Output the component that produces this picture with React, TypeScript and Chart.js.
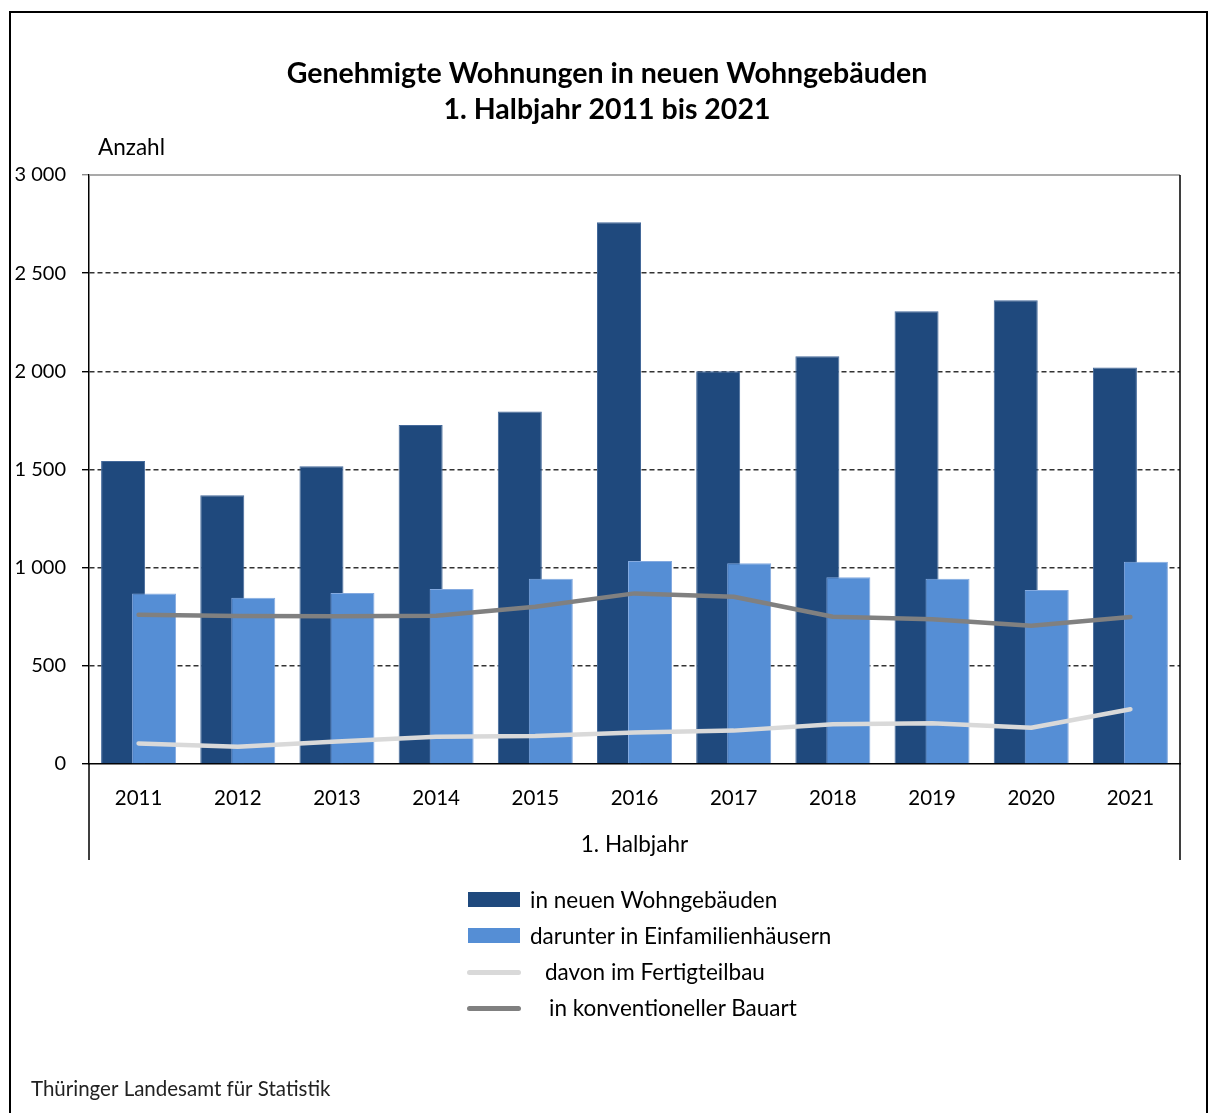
import React, { useEffect, useRef } from 'react';
import { Chart, registerables } from 'chart.js';

Chart.register(...registerables);

// ---- data ----
const years = ['2011', '2012', '2013', '2014', '2015', '2016', '2017', '2018', '2019', '2020', '2021'];
const wohnungenNeu = [1543, 1369, 1516, 1727, 1796, 2759, 2000, 2077, 2306, 2362, 2019];
const einfamilienhaeuser = [869, 847, 871, 891, 944, 1034, 1022, 951, 944, 886, 1030];
const fertigteilbau = [105, 88, 114, 139, 143, 161, 170, 202, 207, 185, 279];
const konventionell = [760, 754, 752, 755, 801, 869, 852, 750, 737, 704, 749];

const yMin = 0;
const yMax = 3000;
const yStep = 500;

const titleLines = ['Genehmigte Wohnungen in neuen Wohngebäuden', '1. Halbjahr 2011 bis 2021'];
const yAxisLabel = 'Anzahl';
const xAxisLabel = '1. Halbjahr';
const sourceText = 'Thüringer Landesamt für Statistik';
const legendLabels = [
  'in neuen Wohngebäuden',
  'darunter in Einfamilienhäusern',
  'davon im Fertigteilbau',
  'in konventioneller Bauart',
];

const COLORS = {
  dark: '#1f497d',
  light: '#558ed5',
  fertig: '#d9d9d9',
  konv: '#808080',
};

const FONT = 'Lato, "Noto Sans", sans-serif';

const fmt = (v: number) => {
  const s = String(Math.round(v));
  return s.replace(/\B(?=(\d{3})+(?!\d))/g, ' ');
};

const drawOrderPlugin = {
  id: 'drawOrder',
  beforeDatasetsDraw(chart: any) {
    [0, 1, 3, 2].forEach((i) => {
      const meta = chart.getDatasetMeta(i);
      if (meta && !meta.hidden) meta.controller.draw();
    });
    return false;
  },
};

const decorPlugin = {
  id: 'decor',
  afterDraw(chart: any) {
    const ctx = chart.ctx as CanvasRenderingContext2D;
    const a = chart.chartArea;
    ctx.save();
    // plot frame top
    ctx.strokeStyle = '#8c8c8c';
    ctx.lineWidth = 1.5;
    ctx.beginPath();
    ctx.moveTo(a.left, a.top);
    ctx.lineTo(a.right, a.top);
    ctx.stroke();
    // right frame + extensions below axis
    ctx.strokeStyle = '#000';
    ctx.lineWidth = 1.5;
    ctx.beginPath();
    ctx.moveTo(a.right, a.top);
    ctx.lineTo(a.right, a.bottom + 96);
    ctx.moveTo(a.left, a.bottom);
    ctx.lineTo(a.left, a.bottom + 96);
    ctx.stroke();
    // outer border
    ctx.lineWidth = 2;
    ctx.beginPath();
    ctx.moveTo(10, chart.height);
    ctx.lineTo(10, 12);
    ctx.lineTo(1207, 12);
    ctx.lineTo(1207, chart.height);
    ctx.stroke();
    // title
    ctx.fillStyle = '#000';
    ctx.textAlign = 'center';
    ctx.textBaseline = 'middle';
    ctx.font = `bold 28.5px ${FONT}`;
    ctx.fillText(titleLines[0], 607, 74);
    ctx.fillText(titleLines[1], 607, 110);
    // y label
    ctx.textAlign = 'left';
    ctx.font = `22.5px ${FONT}`;
    ctx.fillText(yAxisLabel, 98, 148);
    // source
    ctx.fillStyle = '#222';
    ctx.font = `20.5px ${FONT}`;
    ctx.fillText(sourceText, 31, 1089);
    ctx.restore();
  },
};

export default function App() {
  const ref = useRef<HTMLCanvasElement | null>(null);

  useEffect(() => {
    if (!ref.current) return;
    const chart = new Chart(ref.current, {
      type: 'bar',
      data: {
        labels: years,
        datasets: [
          {
            type: 'bar',
            label: legendLabels[0],
            data: wohnungenNeu,
            backgroundColor: COLORS.dark,
            borderColor: '#44699a',
            borderWidth: 1,
            categoryPercentage: 0.625,
            barPercentage: 1.42,
          },
          {
            type: 'bar',
            label: legendLabels[1],
            data: einfamilienhaeuser,
            backgroundColor: COLORS.light,
            borderColor: '#84aae0',
            borderWidth: 1,
            categoryPercentage: 0.625,
            barPercentage: 1.42,
          },
          {
            type: 'line',
            label: legendLabels[2],
            data: fertigteilbau,
            borderColor: COLORS.fertig,
            backgroundColor: COLORS.fertig,
            borderWidth: 4.5,
            pointRadius: 0,
            tension: 0,
            borderCapStyle: 'round',
            borderJoinStyle: 'round',
          },
          {
            type: 'line',
            label: legendLabels[3],
            data: konventionell,
            borderColor: COLORS.konv,
            backgroundColor: COLORS.konv,
            borderWidth: 4.5,
            pointRadius: 0,
            tension: 0,
            borderCapStyle: 'round',
            borderJoinStyle: 'round',
          },
        ] as any,
      },
      options: {
        responsive: false,
        animation: false,
        devicePixelRatio: 1,
        layout: { padding: { left: 0, top: 175, right: 29, bottom: 249 } },
        plugins: {
          legend: { display: false },
          tooltip: { enabled: false },
          title: { display: false },
        },
        scales: {
          x: {
            type: 'category',
            offset: true,
            grid: { display: false, drawTicks: false },
            border: { display: true, color: '#000', width: 1.5 },
            ticks: {
              color: '#000',
              font: { family: FONT, size: 20.5 },
              padding: 22,
              maxRotation: 0,
              autoSkip: false,
            },
            title: {
              display: true,
              text: xAxisLabel,
              color: '#000',
              font: { family: FONT, size: 22.5 },
              padding: { top: 0, bottom: 6 },
            },
            afterFit: (s: any) => {
              s.height = 100;
            },
          },
          y: {
            min: yMin,
            max: yMax,
            ticks: {
              stepSize: yStep,
              callback: (v: any) => fmt(Number(v)),
              color: '#000',
              font: { family: FONT, size: 20 },
              padding: 16,
            },
            grid: {
              color: (c: any) =>
                c.tick && (c.tick.value === yMin || c.tick.value === yMax) ? 'rgba(0,0,0,0)' : '#333',
              lineWidth: 1.4,
              tickLength: 7,
              tickColor: (c: any) => (c.tick && c.tick.value === yMax ? '#8c8c8c' : '#000'),
              tickWidth: 1.4,
              tickBorderDash: [],
            },
            border: { display: true, color: '#000', width: 1.5, dash: [5, 3] },
            afterFit: (s: any) => {
              s.width = 89;
            },
          },
        },
      } as any,
      plugins: [drawOrderPlugin, decorPlugin],
    });
    return () => chart.destroy();
  }, []);

  const rowTop = [900, 936, 972, 1008];
  const textLeft = [530, 530, 545, 549];

  return (
    <div style={{ position: 'absolute', left: 0, top: 0, width: 1209, height: 1113, background: '#fff' }}>
      <canvas ref={ref} width={1209} height={1113} style={{ position: 'absolute', left: 0, top: 0 }} />
      {legendLabels.map((lab, i) => (
        <React.Fragment key={lab}>
          {i < 2 ? (
            <div
              style={{
                position: 'absolute',
                left: 468,
                top: rowTop[i] - 8,
                width: 52,
                height: 15,
                background: i === 0 ? COLORS.dark : COLORS.light,
              }}
            />
          ) : (
            <div
              style={{
                position: 'absolute',
                left: 467,
                top: rowTop[i] - 2.5,
                width: 54,
                height: 5,
                borderRadius: 3,
                background: i === 2 ? COLORS.fertig : COLORS.konv,
              }}
            />
          )}
          <div
            style={{
              position: 'absolute',
              left: textLeft[i],
              top: rowTop[i] - 14,
              height: 28,
              lineHeight: '28px',
              fontFamily: FONT,
              fontSize: 22.5,
              color: '#000',
              whiteSpace: 'nowrap',
            }}
          >
            {lab}
          </div>
        </React.Fragment>
      ))}
    </div>
  );
}
